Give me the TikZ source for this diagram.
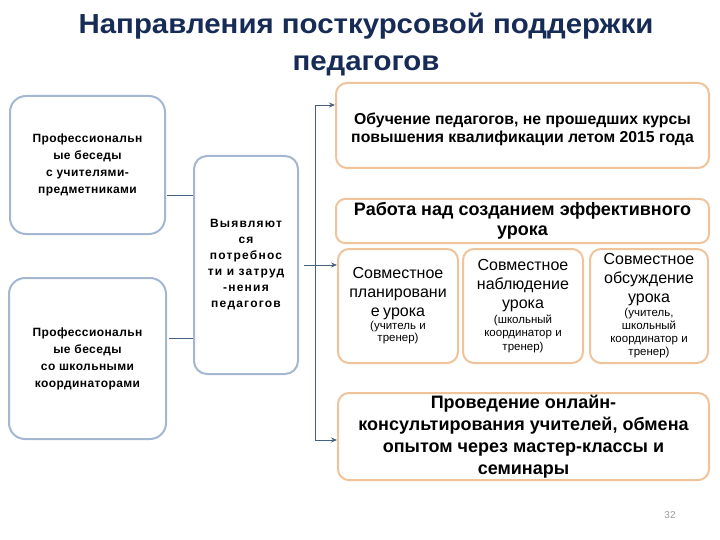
\documentclass[tikz,border=0pt]{standalone}
\usepackage{fontspec}
\setmainfont{Liberation Sans}
\newfontfamily\titlefont{Liberation Sans}[FakeStretch=1.07]
\newfontfamily\leftfont{Liberation Sans}[LetterSpace=3.5]
\newfontfamily\needfont{Liberation Sans}[LetterSpace=10]
\usetikzlibrary{arrows.meta,positioning}
\definecolor{titleblue}{HTML}{172B57}
\definecolor{leftedge}{HTML}{A3B7D0}
\definecolor{rightedge}{HTML}{F0C39B}
\definecolor{linkcol}{HTML}{46617F}
\definecolor{pagenum}{HTML}{9A9A9A}
\newcommand{\fsz}[2]{\fontsize{#1}{#2}\selectfont}
\tikzset{
  lbox/.style={draw=leftedge, line width=2pt, rounded corners=16pt, fill=white, align=center, anchor=north west, inner sep=2pt},
  rbox/.style={draw=rightedge, line width=2pt, rounded corners=11pt, fill=white, align=center, anchor=north west, inner sep=2pt},
  link/.style={draw=linkcol, line width=0.7pt},
  arr/.style={link, -{Stealth[length=6pt,width=5pt]}},
}

\begin{document}
\begin{tikzpicture}[x=1pt, y=-1pt, node distance=3pt]
  \useasboundingbox (0,0) rectangle (720,540);
  % title
  \node[font=\titlefont\fsz{27.5}{37}\bfseries, text=titleblue, align=center] (title) at (366,45) {Направления посткурсовой поддержки\\педагогов};
  % left column
  \node[lbox, minimum width=155, minimum height=138, font=\leftfont\fsz{12}{17}\bfseries] (prof1) at (9,95) {Профессиональн\\ые беседы\\с учителями-\\предметниками};
  \node[lbox, minimum width=157, minimum height=161, font=\leftfont\fsz{12}{17}\bfseries] (prof2) at (8,277) {Профессиональн\\ые беседы\\со школьными\\координаторами};
  \node[lbox, minimum width=104, minimum height=218, rounded corners=13pt, font=\needfont\fsz{12}{16}\bfseries] (need) at (193,155) {Выявляют\\ся\\потребнос\\ти и затруд\\-нения\\педагогов};
  % right column
  \node[rbox, minimum width=373, minimum height=85, font=\fsz{15.8}{18}\bfseries] (train) at (335,82) {\rule{0pt}{20pt}Обучение педагогов, не прошедших курсы\\повышения квалификации летом 2015 года};
  \node[rbox, minimum width=373, minimum height=44, rounded corners=9pt, font=\fsz{18}{20}\bfseries] (lesson) at (335,198) {Работа над созданием эффективного\\урока};
  \node[rbox, minimum width=120, minimum height=114, text width=116] (plan) at (337,248)
    {{\fsz{16}{19}Совместное\\планировани\\е урока\par}\vspace{1pt}{\fsz{11.5}{12}(учитель и\\тренер)\par}};
  \node[rbox, right=of plan, minimum width=120, minimum height=114, text width=116] (watch)
    {{\fsz{16}{19}Совместное\\наблюдение\\урока\par}\vspace{1pt}{\fsz{11.5}{13.5}(школьный\\координатор и\\тренер)\par}};
  \node[rbox, right=5pt of watch, minimum width=118, minimum height=114, text width=114] (discuss)
    {{\fsz{16}{19}Совместное\\обсуждение\\урока\par}\vspace{1pt}{\fsz{11.5}{13}(учитель,\\школьный\\координатор и\\тренер)\par}};
  \node[rbox, minimum width=371, minimum height=86, font=\fsz{18}{22}\bfseries] (online) at (337,392) {Проведение онлайн-\\консультирования учителей, обмена\\опытом через мастер-классы и\\семинары};
  \node[font=\fsz{10}{12}, text=pagenum] (pnum) at (670,515) {32};
  % connectors
  \coordinate (j1) at ([yshift=-30pt]prof1.east);
  \coordinate (j2) at ([yshift=20pt]prof2.east);
  \draw[link, shorten <=1pt] (j1) -- (j1 -| need.west);
  \draw[link, shorten <=2pt] (j2) -- (j2 -| need.west);
  \coordinate (b1) at (315,105);
  \coordinate (b2) at (315,440);
  \draw[link] (b1) -- (b2);
  \draw[arr] (b1) -- (b1 -| train.west);
  \draw[arr] (b2) -- (b2 -| online.west);
  \draw[arr, shorten <=5pt] (need.east) -- (need.east -| plan.west);
\end{tikzpicture}
\end{document}
